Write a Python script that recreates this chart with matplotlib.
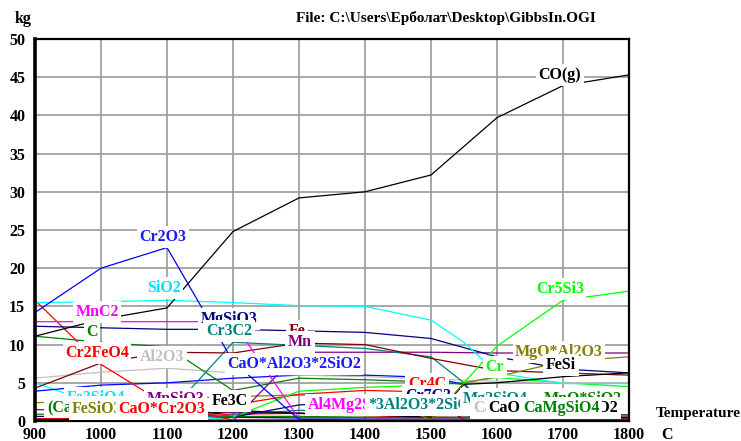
import matplotlib
matplotlib.use("Agg")
import matplotlib.pyplot as plt

# ---------------- data (kg vs temperature, C) ----------------
T10 = [900, 1000, 1100, 1200, 1300, 1400, 1500, 1600, 1700, 1800]

co_T = T10
co_v = [11.1, 13.3, 14.8, 24.8, 29.2, 30.0, 32.2, 39.7, 43.9, 45.3]

cr2o3_T = [900, 1000, 1100, 1200, 1300, 1400, 1500, 1600, 1700, 1800]
cr2o3_v = [14.2, 20.0, 22.7, 7.8, 0.2, 0.1, 0.1, 0.1, 0.1, 0.1]

sio2_T = [900, 1000, 1100, 1200, 1300, 1400, 1500, 1550, 1600, 1700, 1800]
sio2_v = [15.5, 15.6, 15.8, 15.5, 15.1, 15.0, 13.2, 10.3, 6.3, 4.9, 4.9]

mgsio3_T = [900, 1000, 1100, 1200, 1300, 1400, 1500, 1600, 1700, 1800]
mgsio3_v = [12.4, 12.2, 12.0, 12.0, 11.8, 11.6, 10.8, 8.4, 6.8, 6.3]

mnc2_T = [900, 1000, 1100, 1200, 1300]
mnc2_v = [13.0, 13.0, 13.0, 13.0, 0.3]

c_T = [900, 1000, 1100, 1200, 1300, 1400, 1500, 1550]
c_v = [11.1, 10.3, 9.7, 4.0, 5.6, 5.4, 5.1, 4.8]

cr2feo4_T = [900, 1000, 1100, 1200]
cr2feo4_v = [15.8, 7.4, 2.1, 0.1]

fe_T = T10
fe_v = [4.3, 7.6, 9.0, 8.9, 10.2, 10.0, 8.2, 6.6, 6.3, 6.0]

cr3c2_T = [1000, 1100, 1200, 1300, 1400, 1500, 1550, 1600]
cr3c2_v = [0.0, 0.8, 10.3, 9.9, 9.5, 8.4, 5.0, 0.1]

mn_T = [1200, 1300, 1400, 1500, 1600, 1700, 1800]
mn_v = [0.0, 9.0, 9.0, 9.0, 8.9, 8.9, 8.9]

al2o3_T = T10
al2o3_v = [5.6, 6.4, 6.9, 6.3, 6.0, 5.8, 5.5, 5.2, 5.0, 5.0]

caoal_T = [900, 1000, 1100, 1200, 1300, 1400, 1500, 1550, 1600]
caoal_v = [3.9, 4.7, 5.0, 5.6, 6.0, 6.0, 5.7, 4.8, 0.1]

cr_T = [1200, 1300, 1400, 1500, 1550, 1600, 1700, 1800]
cr_v = [0.5, 3.9, 4.4, 4.7, 5.0, 5.7, 5.0, 4.5]

cr5si3_T = [1550, 1600, 1700, 1800]
cr5si3_v = [5.0, 9.8, 15.8, 17.0]

cr4c_T = [1200, 1300, 1400, 1500, 1550]
cr4c_v = [2.1, 3.5, 4.0, 3.8, 0.2]

cr7c3_T = [1200, 1300, 1400, 1500, 1550]
cr7c3_v = [0.5, 2.1, 2.6, 3.0, 0.2]

fesi_T = [1500, 1550, 1600, 1700, 1800]
fesi_v = [0.2, 4.8, 5.0, 5.8, 6.3]

mgoal_T = [1500, 1550, 1600, 1700, 1800]
mgoal_v = [0.2, 5.0, 5.8, 7.8, 8.4]

fesio3_T = [900, 1000, 1100, 1200, 1300, 1400, 1500]
fesio3_v = [2.4, 2.6, 2.9, 3.2, 3.4, 3.3, 0.2]

fe2sio4_T = [900, 1000, 1100, 1200]
fe2sio4_v = [5.0, 2.0, 0.8, 0.2]

fe3c_T = [1100, 1200, 1300, 1400, 1500]
fe3c_v = [0.5, 1.4, 1.0, 0.8, 0.5]

low_purple = [1.5, 1.3, 1.2, 1.1, 1.0, 0.9, 0.9, 0.8, 0.8, 0.8]
low_navy = [0.6, 0.6, 0.5, 0.5, 0.4, 0.4, 0.4, 0.4, 0.3, 0.3]
low_green = [0.9, 0.8, 0.7, 0.6, 0.6, 0.5, 0.5, 0.5, 0.5, 0.5]
low_red = [0.3, 0.3, 0.4, 0.9, 1.0, 0.7, 0.5, 0.4, 0.4, 0.4]
low_blue = [0.1, 0.1, 0.1, 0.1, 0.1, 0.1, 0.1, 0.1, 0.1, 0.1]
low_black = [0.2, 0.2, 0.3, 1.2, 1.0, 0.9, 0.8, 0.6, 0.5, 0.5]
low_teal = [0.0, 0.0, 0.1, 0.8, 1.4, 1.3, 1.2, 1.0, 0.9, 0.8]
low_magenta = [0.3, 0.3, 0.3, 0.2, 0.2, 0.2, 0.2, 0.2, 0.2, 0.2]

x_ticks = [900, 1000, 1100, 1200, 1300, 1400, 1500, 1600, 1700, 1800]
y_ticks = [0, 5, 10, 15, 20, 25, 30, 35, 40, 45, 50]

# ---------------- figure ----------------
plt.rcParams['font.family'] = ['Liberation Serif', 'DejaVu Serif']
plt.rcParams['font.weight'] = 'bold'

fig = plt.figure(figsize=(7.41, 4.41), dpi=100)
ax = fig.add_axes([35 / 741, 1 - 421 / 441, 594 / 741, 382 / 441])
ax.set_xlim(900, 1800)
ax.set_ylim(0, 50)
ax.set_xticks(x_ticks)
ax.set_yticks(y_ticks)
ax.grid(True, color='#9a9a9a', linewidth=1.2, zorder=0)
ax.set_axisbelow(True)
ax.tick_params(length=0, labelsize=11.5)
ax.tick_params(axis='y', pad=7)
ax.tick_params(axis='x', pad=4.5)
for lab in ax.get_xticklabels() + ax.get_yticklabels():
    lab.set_fontweight('bold')
for s in ['top', 'right', 'bottom']:
    ax.spines[s].set_linewidth(1.6)
ax.spines['left'].set_linewidth(2.6)

lw = 0.9
series = [
    (low_blue, T10, '#0000FF'), (low_magenta, T10, '#FF00FF'),
    (low_navy, T10, '#000080'), (low_green, T10, '#008000'),
    (low_red, T10, '#FF0000'), (low_black, T10, '#000000'),
    (low_teal, T10, '#008080'), (low_purple, T10, '#800080'),
    (fe3c_v, fe3c_T, '#000000'), (fe2sio4_v, fe2sio4_T, '#00FFFF'),
    (fesio3_v, fesio3_T, '#808000'), (cr7c3_v, cr7c3_T, '#000080'),
    (cr4c_v, cr4c_T, '#FF0000'), (cr_v, cr_T, '#00FF00'),
    (caoal_v, caoal_T, '#0000FF'), (al2o3_v, al2o3_T, '#C0C0C0'),
    (c_v, c_T, '#008000'), (mn_v, mn_T, '#800080'),
    (cr3c2_v, cr3c2_T, '#008080'), (fe_v, fe_T, '#800000'),
    (cr2feo4_v, cr2feo4_T, '#FF0000'), (mnc2_v, mnc2_T, '#FF00FF'),
    (mgsio3_v, mgsio3_T, '#000080'), (sio2_v, sio2_T, '#00FFFF'),
    (cr2o3_v, cr2o3_T, '#0000FF'), (fesi_v, fesi_T, '#000000'),
    (mgoal_v, mgoal_T, '#808000'), (cr5si3_v, cr5si3_T, '#00FF00'),
    (co_v, co_T, '#000000'),
]
for vals, temps, col in series:
    ax.plot(temps, vals, color=col, linewidth=lw, zorder=2, clip_on=False)

# ---------------- labels (drawn in order, later ones cover earlier) ----------------
def px2d(px, py):
    return 900 + (px - 35) / 594 * 900, (421 - py) / 382 * 50

labels = [
    ("CO(g)", 560, 75, '#000000', 'center'),
    ("Cr2O3", 163, 237, '#1a1aff', 'center'),
    ("SiO2", 164, 288, '#00e0ff', 'center'),
    ("MnC2", 97, 312, '#ff00ff', 'center'),
    ("MgSiO3", 229, 319, '#000080', 'center'),
    ("C", 92, 332, '#008000', 'center'),
    ("Cr3C2", 229, 331, '#008080', 'center'),
    ("Fe", 297, 331, '#800000', 'center'),
    ("Mn", 300, 342, '#800080', 'center'),
    ("Cr2FeO4", 97, 353, '#ff0000', 'center'),
    ("Al2O3", 162, 357, '#c0c0c0', 'center'),
    ("CaO*Al2O3*2SiO2", 294, 364, '#1a1aff', 'center'),
    ("Cr4C", 427, 384, '#ff0000', 'center'),
    ("Cr7C3", 428, 396, '#000080', 'center'),
    ("Fe2SiO4", 67, 398, '#00e0ff', 'left'),
    ("MnSiO3", 147, 399, '#800080', 'left'),
    ("(CaO)2*SiO2", 47, 407, '#008000', 'left'),
    ("FeSiO3", 72, 409, '#808000', 'left'),
    ("CaO*Cr2O3", 162, 409, '#ff0000', 'center'),
    ("Fe3C", 230, 401, '#000000', 'center'),
    ("Al4Mg2Si", 308, 405, '#ff00ff', 'left'),
    ("*3Al2O3*2SiO2", 368, 405, '#008080', 'left'),
    ("Cr", 495, 367, '#00ff00', 'center'),
    ("MgO*Al2O3", 559, 352, '#808000', 'center'),
    ("FeSi", 561, 365, '#000000', 'center'),
    ("Cr5Si3", 560, 289, '#00ff00', 'center'),
    ("Mg2SiO4", 495, 399, '#008080', 'center'),
    ("MnO*SiO2", 583, 399, '#008000', 'center'),
    ("CaAl2O4", 473, 408, '#c0c0c0', 'left'),
    ("SiO2", 618, 408, '#000000', 'right'),
    ("CaO", 504, 408, '#000000', 'center'),
    ("CaMgSiO4", 561, 408, '#008000', 'center'),
]
for i, (txt, px, py, col, ha) in enumerate(labels):
    xd, yd = px2d(px, py)
    ax.text(xd, yd, txt, color=col, fontsize=11.5, fontweight='bold',
            ha=ha, va='center', zorder=10 + i, clip_on=False,
            bbox=dict(facecolor='white', edgecolor='none', pad=1.8))

# ---------------- outer texts ----------------
fig.text(15 / 741, 1 - 19 / 441, "kg", fontsize=11.5, fontweight='bold', va='center', ha='left')
fig.text(446 / 741, 1 - 18 / 441, "File: C:\\Users\\Ерболат\\Desktop\\GibbsIn.OGI",
         fontsize=11, fontweight='bold', va='center', ha='center')
fig.text(698 / 741, 1 - 414 / 441, "Temperature", fontsize=11, fontweight='bold', va='center', ha='center')
fig.text(667 / 741, 1 - 435 / 441, "C", fontsize=11.5, fontweight='bold', va='center', ha='center')

fig.savefig("out.png", dpi=100)
